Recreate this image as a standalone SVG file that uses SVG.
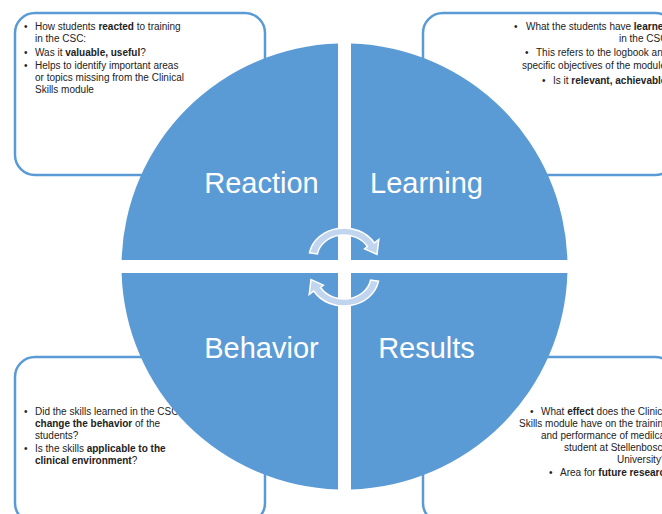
<svg xmlns="http://www.w3.org/2000/svg" width="662" height="514" viewBox="0 0 662 514">
<style>
.box{fill:#ffffff;stroke:#5B9BD5;stroke-width:2.5}
.q{fill:#5B9BD5}
.t{font-family:"Liberation Sans",Arial,sans-serif;font-size:10px;fill:#222222}
.b{font-weight:bold}
.lbl{font-family:"Liberation Sans",Arial,sans-serif;font-size:29px;fill:#ffffff;text-anchor:middle}
.arr{fill:#C2D5EE;stroke:#ffffff;stroke-width:1.5;stroke-linejoin:miter}
</style>
<defs>
<path id="arrowShape" d="M309.5,252.8 A35,30 0 0 1 374.3,243 L378.8,239.4 L377,254.5 L364.6,248.9 L367.4,246.5 A27,23 0 0 0 317.4,254 Z"/>
</defs>

<g id="box-reaction">
<rect class="box" x="15" y="13" width="250" height="162" rx="20"/>
<text class="t" x="24" y="30">•</text>
<text class="t" x="35" y="30">How students <tspan class="b">reacted</tspan> to training</text>
<text class="t" x="35" y="42">in the CSC:</text>
<text class="t" x="24" y="56">•</text>
<text class="t" x="35" y="56">Was it <tspan class="b">valuable, useful</tspan>?</text>
<text class="t" x="24" y="69">•</text>
<text class="t" x="35" y="69">Helps to identify important areas</text>
<text class="t" x="35" y="81">or topics missing from the Clinical</text>
<text class="t" x="35" y="93">Skills module</text>
</g>

<g id="box-learning">
<rect class="box" x="423" y="13" width="252" height="162" rx="20"/>
<text class="t" x="514" y="30">•</text>
<text class="t" x="526" y="30">What the students have <tspan class="b">learned</tspan></text>
<text class="t" x="619" y="42">in the CSC?</text>
<text class="t" x="525" y="56">•</text>
<text class="t" x="536" y="56">This refers to the logbook and</text>
<text class="t" x="522" y="68.5">specific objectives of the module</text>
<text class="t" x="542" y="84">•</text>
<text class="t" x="553" y="84">Is it <tspan class="b">relevant, achievable</tspan>?</text>
</g>

<g id="box-behavior">
<rect class="box" x="15" y="357" width="250" height="166" rx="20"/>
<text class="t" x="24" y="415">•</text>
<text class="t" x="35" y="415">Did the skills learned in the CSC</text>
<text class="t" x="35" y="426.5"><tspan class="b">change the behavior</tspan> of the</text>
<text class="t" x="35" y="439">students?</text>
<text class="t" x="24" y="452">•</text>
<text class="t" x="35" y="452">Is the skills <tspan class="b">applicable to the</tspan></text>
<text class="t" x="35" y="464"><tspan class="b">clinical environment</tspan>?</text>
</g>

<g id="box-results">
<rect class="box" x="423" y="357" width="252" height="166" rx="20"/>
<text class="t" x="530" y="415">•</text>
<text class="t" x="541" y="415">What <tspan class="b">effect</tspan> does the Clinical</text>
<text class="t" x="519" y="426.5">Skills module have on the training</text>
<text class="t" x="541" y="439">and performance of medilcal</text>
<text class="t" x="564" y="450.5">student at Stellenbosch</text>
<text class="t" x="617" y="462.5">University?</text>
<text class="t" x="549" y="476">•</text>
<text class="t" x="560" y="476">Area for <tspan class="b">future research</tspan></text>
</g>

<g id="reaction">
<path class="q" d="M338,260 L338,43.6 A223,223 0 0 0 121.6,260 Z"/>
<text class="lbl" x="261.5" y="193">Reaction</text>
</g>
<g id="learning">
<path class="q" d="M351,260 L567.4,260 A223,223 0 0 0 351,43.6 Z"/>
<text class="lbl" x="426.5" y="193">Learning</text>
</g>
<g id="behavior">
<path class="q" d="M338,273 L121.6,273 A223,223 0 0 0 338,489.4 Z"/>
<text class="lbl" x="261.5" y="358">Behavior</text>
</g>
<g id="results">
<path class="q" d="M351,273 L351,489.4 A223,223 0 0 0 567.4,273 Z"/>
<text class="lbl" x="426.5" y="358">Results</text>
</g>

<g id="connectors">
<use href="#arrowShape" class="arr"/>
<use href="#arrowShape" class="arr" transform="rotate(180 344 267)"/>
</g>
</svg>
